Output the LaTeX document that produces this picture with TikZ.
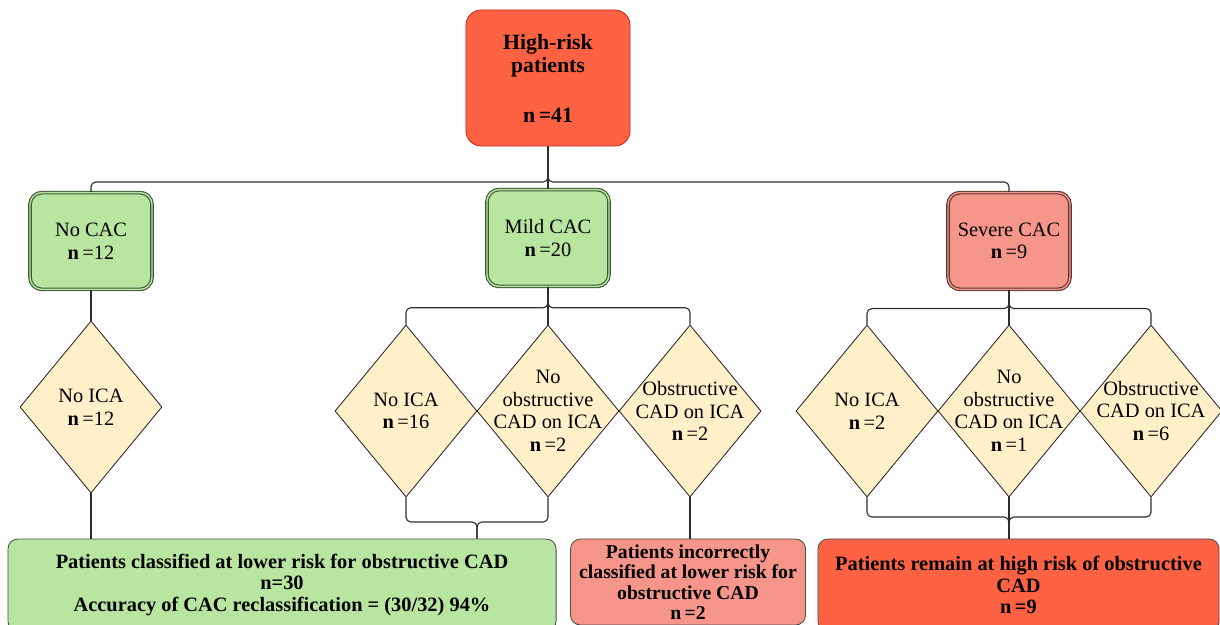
\documentclass[tikz,border=0pt]{standalone}
\usepackage{fontspec}
\setmainfont{Liberation Serif}
\usetikzlibrary{shapes.geometric}

\definecolor{riskred}{HTML}{FF6243}
\definecolor{riskedge}{HTML}{C92A1C}
\definecolor{cacgreen}{HTML}{B8E6A0}
\definecolor{greenedge}{HTML}{3D5935}
\definecolor{salmon}{HTML}{F6958A}
\definecolor{salmonedge}{HTML}{5B3833}
\definecolor{cream}{HTML}{FFF0C9}
\definecolor{linkgray}{HTML}{2E2E2E}

\tikzset{
  link/.style={draw=linkgray, line width=0.8pt, rounded corners=0.12cm},
  topbox/.style={rectangle, rounded corners=0.38cm, fill=riskred, draw=riskedge,
    line width=0.6pt, minimum width=4.1cm, minimum height=3.4cm, align=center,
    font=\fontsize{15.5}{17}\selectfont\bfseries},
  cacbox/.style={rectangle, rounded corners=0.3cm, fill=#1, double=#1,
    double distance=1pt, line width=0.8pt, minimum width=3.05cm,
    minimum height=2.42cm, align=center, font=\fontsize{14.5}{16}\selectfont},
  decision/.style={diamond, fill=cream, draw=black!85, line width=0.6pt,
    minimum width=3.55cm, minimum height=4.3cm, inner sep=0pt},
  dtext/.style={align=center, inner sep=0pt, font=\fontsize{14.5}{16}\selectfont},
  resultbox/.style={rectangle, rounded corners=0.25cm, fill=#1, draw=black!70,
    line width=0.6pt, minimum height=2.3cm, align=center,
    font=\fontsize{14.5}{15.5}\selectfont\bfseries}
}

\begin{document}
\begin{tikzpicture}[x=0.025cm, y=-0.025cm]

    % Fix the frame of the picture
    \useasboundingbox (0,0) rectangle (1220,624);
    \clip (0,0) rectangle (1220,624);

    % Top box
    \node[topbox] (top) at (548,78) {High-risk\\patients\\[18pt]n\,=41};

    % CAC groups
    \node[cacbox=cacgreen, draw=greenedge] (nocac) at (91,241) {No CAC\\\textbf{n}\,=12};
    \node[cacbox=cacgreen, draw=greenedge] (mild) at (548,238) {Mild CAC\\\textbf{n}\,=20};
    \node[cacbox=salmon, draw=salmonedge] (severe) at (1009,241) {Severe CAC\\\textbf{n}\,=9};

    % ICA decisions
    \node[decision, label={[dtext]center:No ICA\\\textbf{n}\,=12}] (ndA) at (91,407) {};

    \node[decision, label={[dtext]center:No ICA\\\textbf{n}\,=16}] (mdA) at (406,411) {};
    \node[decision, label={[dtext]center:No\\obstructive\\CAD on ICA\\\textbf{n}\,=2}] (mdB) at (548,411) {};
    \node[decision, label={[dtext]center:Obstructive\\CAD on ICA\\\textbf{n}\,=2}] (mdC) at (690,411) {};

    \node[decision, label={[dtext]center:No ICA\\\textbf{n}\,=2}] (sdA) at (867,411) {};
    \node[decision, label={[dtext]center:No\\obstructive\\CAD on ICA\\\textbf{n}\,=1}] (sdB) at (1009,411) {};
    \node[decision, label={[dtext]center:Obstructive\\CAD on ICA\\\textbf{n}\,=6}] (sdC) at (1151,411) {};

    % Results
    \node[resultbox=cacgreen, minimum width=13.7cm] (lower) at (282,585)
      {Patients classified at lower risk for obstructive CAD\\n=30\\Accuracy of CAC reclassification = (30/32) 94\%};
    \node[resultbox=salmon, minimum width=5.875cm, minimum height=2.15cm, inner sep=1pt,
      font=\fontsize{14}{14.5}\selectfont\bfseries] (wrong) at (688,582)
      {Patients incorrectly\\classified at lower risk for\\obstructive CAD\\n\,=2};
    \node[resultbox=riskred, minimum width=10.025cm] (stay) at (1018.5,585)
      {Patients remain at high risk of obstructive\\CAD\\n\,=9};

    % Join points
    \coordinate (mildjoin) at (477,522);
    \coordinate (severejoin) at (1009,517);

    % Draw the links from the top box
    \draw[link] (top.south) -- (mild.north);
    \draw[link] (top.south) |- ([yshift=0.25cm]nocac.north) -- (nocac.north);
    \draw[link] (top.south) |- ([yshift=0.25cm]severe.north) -- (severe.north);

    % Draw the links to the decisions
    \draw[link] (nocac.south) -- (ndA.north);
    \draw[link] (mild.south) -- (mdB.north);
    \draw[link] (mild.south) |- ([yshift=0.42cm]mdA.north) -- (mdA.north);
    \draw[link] (mild.south) |- ([yshift=0.42cm]mdC.north) -- (mdC.north);
    \draw[link] (severe.south) -- (sdB.north);
    \draw[link] (severe.south) |- ([yshift=0.4cm]sdA.north) -- (sdA.north);
    \draw[link] (severe.south) |- ([yshift=0.4cm]sdC.north) -- (sdC.north);

    % Draw the links to the results
    \draw[link] (ndA.south) -- (ndA.south |- lower.north);
    \draw[link] (mdA.south) |- (mildjoin) -- (mildjoin |- lower.north);
    \draw[link] (mdB.south) |- (mildjoin) -- (mildjoin |- lower.north);
    \draw[link] (mdC.south) -- (mdC.south |- wrong.north);
    \draw[link] (sdB.south) -- (sdB.south |- stay.north);
    \draw[link] (sdA.south) |- (severejoin) -- (severejoin |- stay.north);
    \draw[link] (sdC.south) |- (severejoin) -- (severejoin |- stay.north);

\end{tikzpicture}
\end{document}
